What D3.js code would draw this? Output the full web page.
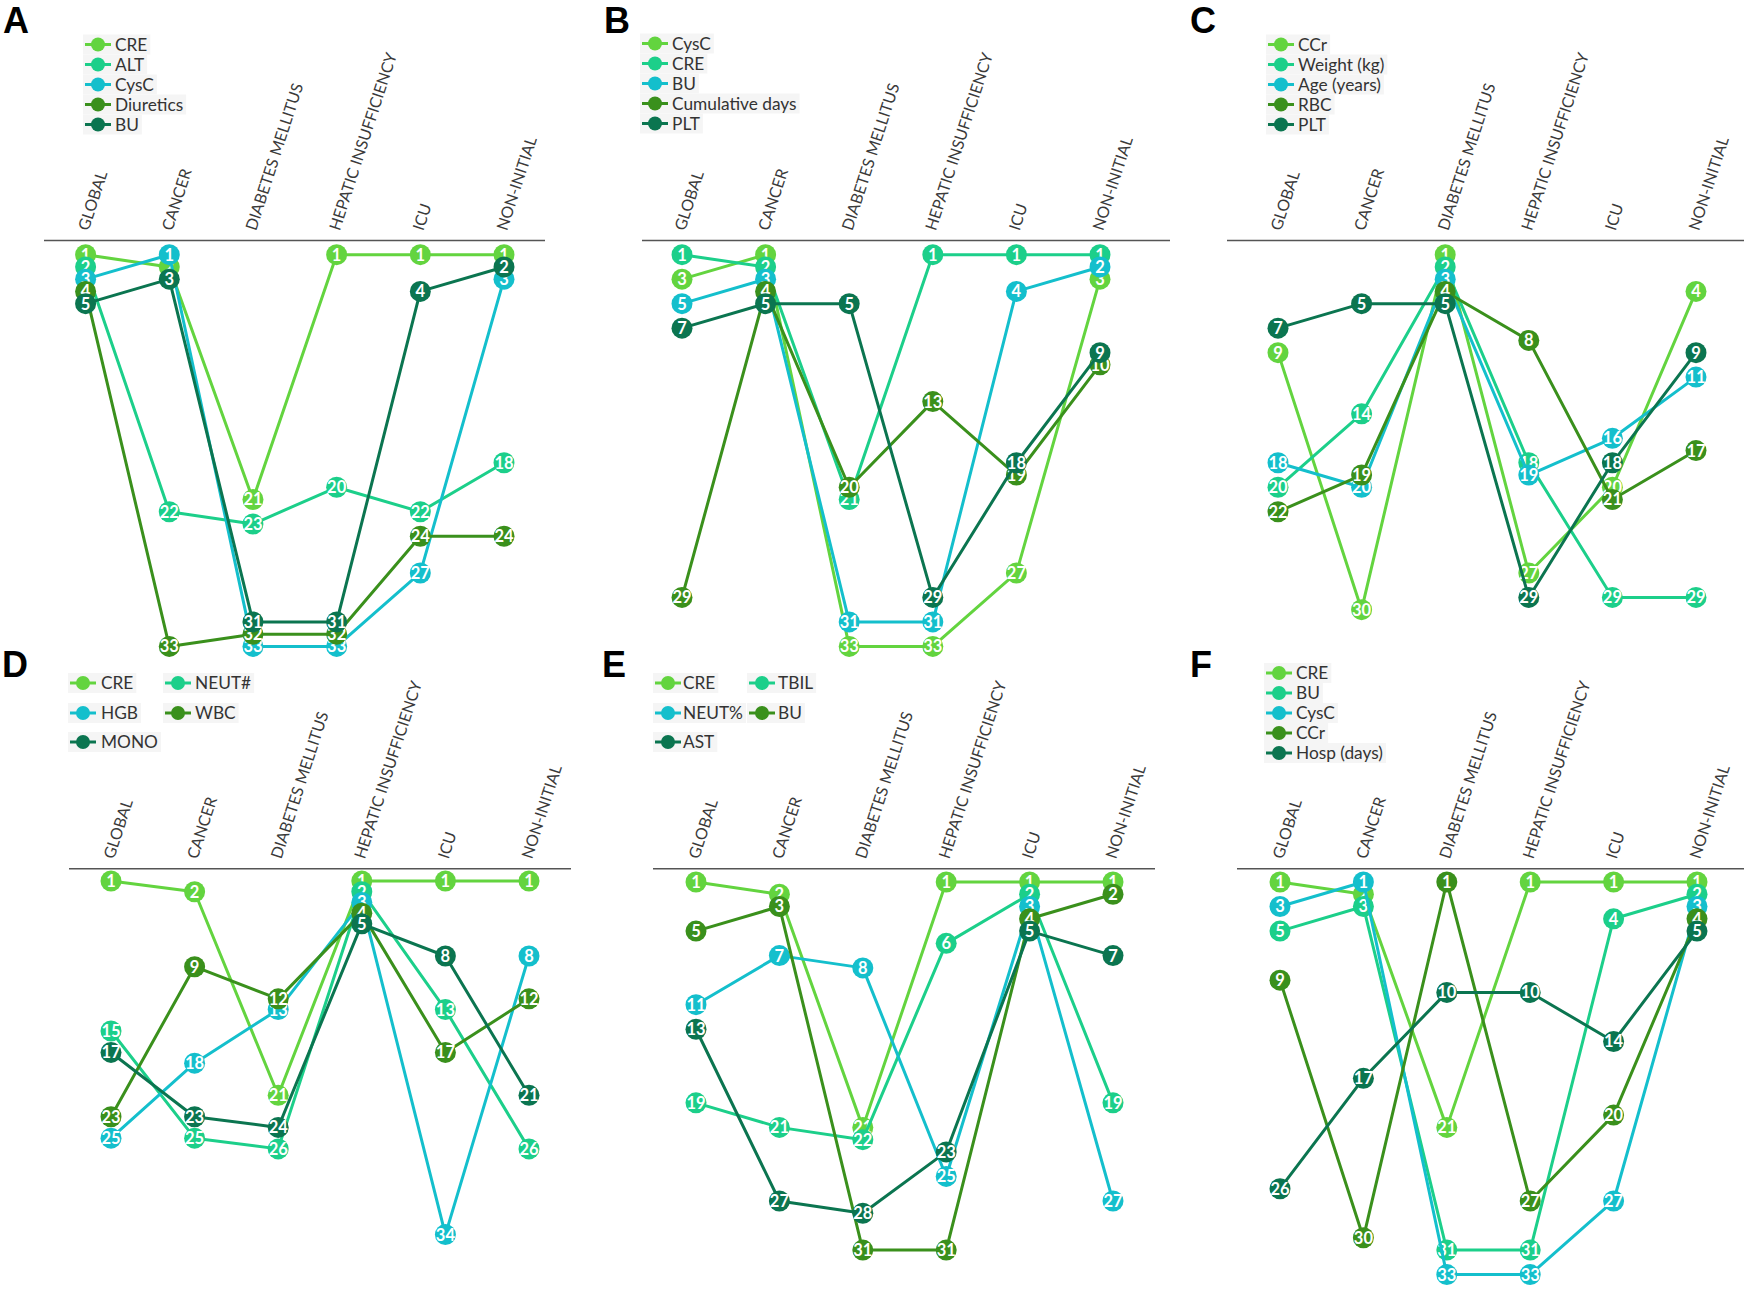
<!DOCTYPE html>
<html><head><meta charset="utf-8">
<script src="https://cdn.jsdelivr.net/npm/d3@7"></script>
<style>
body{margin:0;background:#fff;}
text{font-family:Lato,"Open Sans",sans-serif;}
</style></head>
<body>
<script>
// ---------- DATA ----------
const categories = ["GLOBAL","CANCER","DIABETES MELLITUS","HEPATIC INSUFFICIENCY","ICU","NON-INITIAL"];
const palette = ["#63d43f","#1ccf8a","#14bfcc","#3a901c","#0b7550"];

const seriesA = ["CRE","ALT","CysC","Diuretics","BU"];
const ranksA = [
  [1,2,21,1,1,1],
  [2,22,23,20,22,18],
  [3,1,33,33,27,3],
  [4,33,32,32,24,24],
  [5,3,31,31,4,2]
];
const seriesB = ["CysC","CRE","BU","Cumulative days","PLT"];
const ranksB = [
  [3,1,33,33,27,3],
  [1,2,21,1,1,1],
  [5,3,31,31,4,2],
  [29,4,20,13,19,10],
  [7,5,5,29,18,9]
];
const seriesC = ["CCr","Weight (kg)","Age (years)","RBC","PLT"];
const ranksC = [
  [9,30,1,27,20,4],
  [20,14,2,18,29,29],
  [18,20,3,19,16,11],
  [22,19,4,8,21,17],
  [7,5,5,29,18,9]
];
const seriesD = ["CRE","NEUT#","HGB","WBC","MONO"];
const ranksD = [
  [1,2,21,1,1,1],
  [15,25,26,2,13,26],
  [25,18,13,3,34,8],
  [23,9,12,4,17,12],
  [17,23,24,5,8,21]
];
const seriesE = ["CRE","TBIL","NEUT%","BU","AST"];
const ranksE = [
  [1,2,21,1,1,1],
  [19,21,22,6,2,19],
  [11,7,8,25,3,27],
  [5,3,31,31,4,2],
  [13,27,28,23,5,7]
];
const seriesF = ["CRE","BU","CysC","CCr","Hosp (days)"];
const ranksF = [
  [1,2,21,1,1,1],
  [5,3,31,31,4,2],
  [3,1,33,33,27,3],
  [9,30,1,27,20,4],
  [26,17,10,10,14,5]
];

// ---------- LAYOUT ----------
const panels = [
  {letter:"A", lx:3,   ly:33,  names:seriesA, ranks:ranksA, xr:[85.6,504], ymax:33, yr:[254.7,646.4], axisY:240.5, line:[44,545],
   leg:{cols:[[98,115]], rows:[44.5,64.5,84.5,104.5,124.5], pos:[[0,0],[0,1],[0,2],[0,3],[0,4]]}},
  {letter:"B", lx:604, ly:33,  names:seriesB, ranks:ranksB, xr:[682,1100], ymax:33, yr:[254.7,646.4], axisY:240.5, line:[642,1170],
   leg:{cols:[[655,672]], rows:[43.5,63.5,83.5,103.5,123.5], pos:[[0,0],[0,1],[0,2],[0,3],[0,4]]}},
  {letter:"C", lx:1190,ly:33,  names:seriesC, ranks:ranksC, xr:[1278,1696], ymax:33, yr:[254.7,646.4], axisY:240.5, line:[1227,1744],
   leg:{cols:[[1281,1298]], rows:[44.5,64.5,84.5,104.5,124.5], pos:[[0,0],[0,1],[0,2],[0,3],[0,4]]}},
  {letter:"D", lx:2,   ly:677, names:seriesD, ranks:ranksD, xr:[111,529], ymax:34, yr:[881,1234.6], axisY:868.8, line:[69,571],
   leg:{cols:[[83,101],[178,195]], rows:[683,713,742], pos:[[0,0],[1,0],[0,1],[1,1],[0,2]]}},
  {letter:"E", lx:602, ly:677, names:seriesE, ranks:ranksE, xr:[696,1113], ymax:33, yr:[882,1274.6], axisY:868.8, line:[653,1155],
   leg:{cols:[[668,683],[762,778]], rows:[683,713,742], pos:[[0,0],[1,0],[0,1],[1,1],[0,2]]}},
  {letter:"F", lx:1190,ly:677, names:seriesF, ranks:ranksF, xr:[1280,1697], ymax:33, yr:[882,1274.6], axisY:868.8, line:[1237,1744],
   leg:{cols:[[1279,1296]], rows:[673,693,713,733,753], pos:[[0,0],[0,1],[0,2],[0,3],[0,4]]}}
];

const svg = d3.select("body").append("svg").attr("width",1744).attr("height",1289);
svg.append("rect").attr("width",1744).attr("height",1289).attr("fill","#fff");

panels.forEach(p => {
  const g = svg.append("g");
  const x = d3.scalePoint().domain(categories).range(p.xr);
  const y = d3.scaleLinear().domain([1,p.ymax]).range(p.yr);

  // letter
  g.append("text").attr("x",p.lx).attr("y",p.ly).text(p.letter)
    .style("font-family","'Liberation Sans',Arial,sans-serif").style("font-weight","bold")
    .style("font-size","36px").attr("fill","#000");

  // legend
  p.names.forEach((n,i) => {
    const [ci,ri] = p.leg.pos[i];
    const [mx,tx] = p.leg.cols[ci];
    const ly = p.leg.rows[ri];
    const lg = g.append("g");
    const t = lg.append("text").attr("x",tx).attr("y",ly).attr("dy","0.35em").text(n)
      .style("font-size","17.3px").attr("fill","#333");
    const w = t.node().getComputedTextLength();
    lg.insert("rect","text").attr("x",mx-15).attr("y",ly-10).attr("width",tx-mx+15+w+3).attr("height",20)
      .attr("fill","#f5f5f5");
    lg.append("line").attr("x1",mx-13).attr("x2",mx+13).attr("y1",ly).attr("y2",ly)
      .attr("stroke",palette[i]).attr("stroke-width",3);
    lg.append("circle").attr("cx",mx).attr("cy",ly).attr("r",7).attr("fill",palette[i]);
  });

  // category axis (labels)
  const ax = g.append("g").attr("transform",`translate(0,${p.axisY})`)
    .call(d3.axisTop(x).tickSize(0).tickPadding(0));
  ax.select(".domain").remove();
  ax.selectAll("text")
    .attr("x",0).attr("y",0).attr("dy",0)
    .attr("text-anchor","start")
    .attr("transform","translate(2.5,-9) rotate(-72)")
    .style("font-family","Lato,sans-serif")
    .style("font-size","16px").attr("fill","#3a3a3a");
  g.append("line").attr("x1",p.line[0]).attr("x2",p.line[1])
    .attr("y1",p.axisY).attr("y2",p.axisY).attr("stroke","#555").attr("stroke-width",1.6);

  // series
  const line = d3.line().x((d,j)=>x(categories[j])).y(d=>y(d));
  p.names.forEach((n,i) => {
    const sg = g.append("g");
    sg.append("path").datum(p.ranks[i]).attr("d",line)
      .attr("fill","none").attr("stroke",palette[i]).attr("stroke-width",3).attr("stroke-linejoin","round");
    const pts = sg.selectAll("g.pt").data(p.ranks[i]).join("g").attr("class","pt")
      .attr("transform",(d,j)=>`translate(${x(categories[j])},${y(d)})`);
    pts.append("circle").attr("r",10.5).attr("fill",palette[i]);
    pts.append("text").text(d=>d).attr("text-anchor","middle").attr("dy","0.36em")
      .style("font-size","16.5px").style("font-weight","bold").attr("fill","#fff");
  });
});
</script>
</body></html>
